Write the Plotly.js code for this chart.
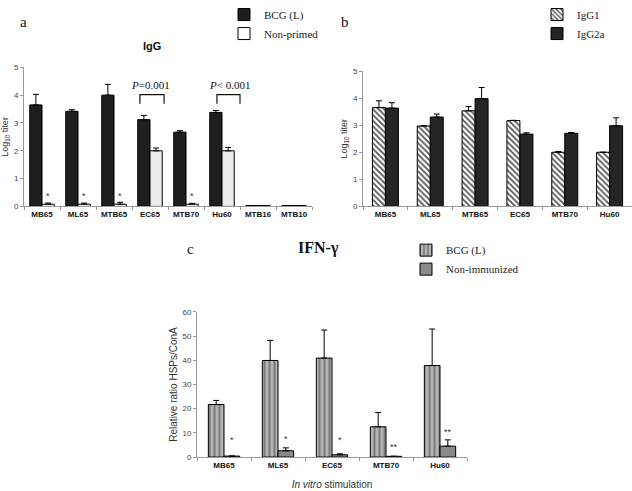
<!DOCTYPE html>
<html>
<head>
<meta charset="utf-8">
<script src="https://cdn.plot.ly/plotly-3.0.1.min.js"></script>
<style>
  body { margin: 0; background: #fff; }
  #chart { width: 632px; height: 491px; }
</style>
</head>
<body>
<div id="chart"></div>
<script>
// panel a: IgG, BCG (L) vs non-primed
let groupsA = ["MB65", "ML65", "MTB65", "EC65", "MTB70", "Hu60", "MTB16", "MTB10"];
let bcgA = [3.65, 3.42, 4.0, 3.12, 2.67, 3.38, 0.03, 0.03];
let bcgAErr = [0.38, 0.06, 0.39, 0.15, 0.05, 0.07, 0, 0];
let nonPrimed = [0.08, 0.08, 0.08, 2.0, 0.08, 2.0, 0.03, 0.03];
let nonPrimedErr = [0.04, 0.04, 0.07, 0.1, 0.03, 0.12, 0, 0];

// panel b: IgG1 vs IgG2a
let groupsB = ["MB65", "ML65", "MTB65", "EC65", "MTB70", "Hu60"];
let igg1 = [3.65, 2.97, 3.53, 3.17, 2.0, 2.0];
let igg1Err = [0.25, 0.01, 0.16, 0.01, 0.03, 0];
let igg2a = [3.63, 3.3, 3.98, 2.67, 2.7, 2.98];
let igg2aErr = [0.2, 0.11, 0.41, 0.05, 0.03, 0.29];

// panel c: IFN-gamma
let groupsC = ["MB65", "ML65", "EC65", "MTB70", "Hu60"];
let bcgC = [21.7, 39.9, 40.9, 12.5, 37.8];
let bcgCErr = [1.7, 8.3, 11.6, 5.9, 15.1];
let nonImm = [0.4, 2.6, 0.95, 0.3, 4.5];
let nonImmErr = [0, 1.2, 0.4, 0, 2.6];

// significance marks
let starsA = ["*", "*", "*", "", "*", "", "", ""];
let starsC = ["*", "*", "*", "**", "**"];

let W = 632, H = 491;
let px = v => v / W;
let py = v => 1 - v / H;

let errStyle = (arr) => ({
  type: "data", symmetric: false, array: arr, arrayminus: arr.map(() => 0),
  color: "#000", thickness: 1, width: 3
});
let line = {color: "#000", width: 1};

let traces = [
  {x: groupsA, y: bcgA, name: "BCG (L)", type: "bar", xaxis: "x", yaxis: "y",
   offset: -0.34, width: 0.34, legend: "legend",
   marker: {color: "#1e1e1e", line: line}, error_y: errStyle(bcgAErr)},
  {x: groupsA, y: nonPrimed, name: "Non-primed", type: "bar", xaxis: "x", yaxis: "y",
   offset: 0, width: 0.34, legend: "legend",
   marker: {color: ["#fff", "#fff", "#fff", "#ececec", "#fff", "#ececec", "#fff", "#fff"], line: line},
   error_y: errStyle(nonPrimedErr)},
  {x: groupsB, y: igg1, name: "IgG1", type: "bar", xaxis: "x2", yaxis: "y2",
   offset: -0.29, width: 0.29, legend: "legend2",
   marker: {color: "#fff", line: line,
            pattern: {shape: "\\", fgcolor: "#555", bgcolor: "#fff", size: 4, solidity: 0.45}},
   error_y: errStyle(igg1Err)},
  {x: groupsB, y: igg2a, name: "IgG2a", type: "bar", xaxis: "x2", yaxis: "y2",
   offset: 0, width: 0.29, legend: "legend2",
   marker: {color: "#252525", line: line}, error_y: errStyle(igg2aErr)},
  {x: groupsC, y: bcgC, name: "BCG (L)", type: "bar", xaxis: "x3", yaxis: "y3",
   offset: -0.29, width: 0.29, legend: "legend3",
   marker: {color: "#b4b4b4", line: line,
            pattern: {shape: "|", fgcolor: "#7a7a7a", bgcolor: "#b4b4b4", size: 5, solidity: 0.4}},
   error_y: errStyle(bcgCErr)},
  {x: groupsC, y: nonImm, name: "Non-immunized", type: "bar", xaxis: "x3", yaxis: "y3",
   offset: 0, width: 0.29, legend: "legend3",
   marker: {color: "#8a8a8a", line: line}, error_y: errStyle(nonImmErr)}
];

let tickFont = {family: "Arial", size: 8, color: "#444"};
let catFont = {family: "Arial", size: 8, color: "#111", weight: "bold"};
let xax = (dom, anchor) => ({
  domain: dom, anchor: anchor, type: "category", showgrid: false, zeroline: false,
  showline: true, linecolor: "#999", linewidth: 1, ticks: "outside", tickson: "boundaries",
  ticklen: 3, tickcolor: "#999", tickfont: catFont
});
let yax = (dom, anchor, range, dtick) => ({
  domain: dom, anchor: anchor, range: range, dtick: dtick, showgrid: false, zeroline: false,
  showline: true, linecolor: "#999", linewidth: 1, ticks: "outside", ticklen: 3,
  tickcolor: "#999", tickfont: tickFont
});
let legFont = {family: "Liberation Serif", size: 11, color: "#222"};
let label = (text, x, y, font) => ({text: text, x: px(x), y: py(y), xref: "paper", yref: "paper",
  xanchor: "center", yanchor: "middle", showarrow: false, font: font});

let layout = {
  width: W, height: H, margin: {l: 0, r: 0, t: 0, b: 0},
  paper_bgcolor: "#fff", plot_bgcolor: "#fff", barmode: "group",
  font: {family: "Arial", color: "#222"},
  xaxis: xax([px(24), px(312)], "y"),
  yaxis: Object.assign(yax([py(203.5), py(63)], "x", [0, 5], 1),
    {title: {text: "Log<sub>10</sub> titer", font: {family: "Arial", size: 9, color: "#333"}, standoff: 10}}),
  xaxis2: xax([px(363), 1], "y2"),
  yaxis2: Object.assign(yax([py(203.5), py(66.7)], "x2", [0, 5], 1),
    {title: {text: "Log<sub>10</sub> titer", font: {family: "Arial", size: 9, color: "#333"}, standoff: 3}}),
  xaxis3: Object.assign(xax([px(197), px(467)], "y3"),
    {title: {text: "<i>In vitro</i> stimulation", font: {family: "Arial", size: 10, color: "#333"}, standoff: 12}}),
  yaxis3: Object.assign(yax([py(456.7), py(310)], "x3", [0, 60], 10),
    {title: {text: "Relative ratio HSPs/ConA", font: {family: "Arial", size: 10, color: "#333"}, standoff: 2}}),
  legend: {x: px(224), y: py(-5), xanchor: "left", yanchor: "top", bgcolor: "rgba(0,0,0,0)", font: legFont},
  legend2: {x: px(537), y: py(-5), xanchor: "left", yanchor: "top", bgcolor: "rgba(0,0,0,0)", font: legFont},
  legend3: {x: px(406), y: py(233), xanchor: "left", yanchor: "top", bgcolor: "rgba(0,0,0,0)", font: legFont},
  annotations: [
    label("a", 23, 17, {family: "Liberation Serif", size: 15, color: "#111"}),
    label("b", 345, 17, {family: "Liberation Serif", size: 15, color: "#111"}),
    label("c", 190, 247, {family: "Liberation Serif", size: 15, color: "#111"}),
    label("<b>IgG</b>", 152, 41, {family: "Arial", size: 11, color: "#111"}),
    label("<b>IFN-γ</b>", 318, 245, {family: "Liberation Serif", size: 16, color: "#111"}),
    {text: "<i>P</i>=0.001", x: 3, y: 4.38, xref: "x", yref: "y", yanchor: "middle", showarrow: false,
     font: {family: "Liberation Serif", size: 11, color: "#111"}},
    {text: "<i>P</i>< 0.001", x: 5.2, y: 4.38, xref: "x", yref: "y", yanchor: "middle", showarrow: false,
     font: {family: "Liberation Serif", size: 11, color: "#111"}}
  ],
  shapes: [
    {type: "path", xref: "x", yref: "y", path: "M 2.72 3.69 L 2.72 4.02 L 3.39 4.02 L 3.39 3.69",
     line: {color: "#111", width: 1.2}},
    {type: "path", xref: "x", yref: "y", path: "M 4.86 3.69 L 4.86 4.02 L 5.5 4.02 L 5.5 3.69",
     line: {color: "#111", width: 1.2}}
  ]
};

// asterisks above the non-primed / non-immunized bars
starsA.forEach((s, i) => {
  if (s) layout.annotations.push({text: s, x: i + 0.17, y: 0.38, xref: "x", yref: "y",
    yanchor: "middle", showarrow: false, font: {family: "Arial", size: 9, color: "#333"}});
});
let starYC = [7.2, 7.5, 7.2, 4.1, 10.2];
starsC.forEach((s, i) => {
  layout.annotations.push({text: s, x: i + 0.145, y: starYC[i], xref: "x3", yref: "y3",
    yanchor: "middle", showarrow: false, font: {family: "Arial", size: 9, color: "#333"}});
});

Plotly.newPlot("chart", traces, layout, {displayModeBar: false});
</script>
</body>
</html>
